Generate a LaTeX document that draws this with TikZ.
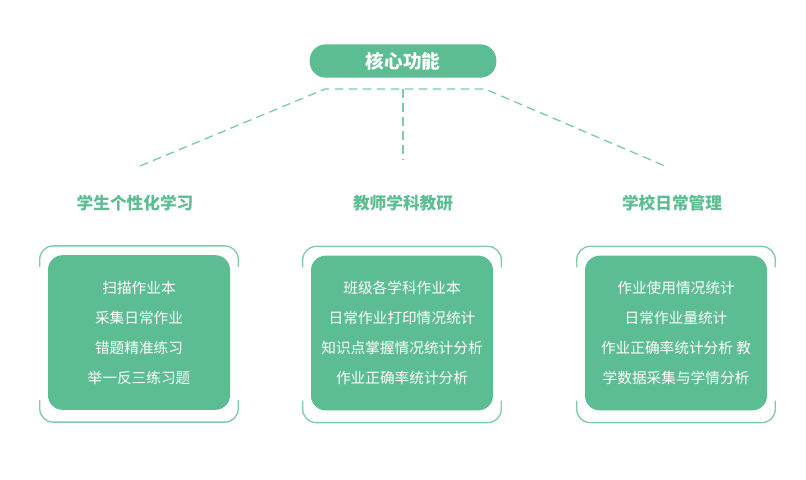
\documentclass[tikz,border=0pt]{standalone}
\usepackage{fontspec}
\setmainfont{Noto Sans CJK SC}
\usetikzlibrary{calc}
\definecolor{mygreen}{HTML}{5DBD92}
\definecolor{mylight}{HTML}{7ECBA6}

\begin{document}
\begin{tikzpicture}[x=0.75pt,y=-0.75pt,
  pill/.style={fill=mygreen,rounded corners=12pt,minimum width=140pt,minimum height=25pt,
    text=white,font=\fontsize{14pt}{16pt}\selectfont\bfseries},
  head/.style={text=mygreen,font=\fontsize{12.5pt}{14pt}\selectfont\bfseries},
  gbox/.style={fill=mygreen,rounded corners=11pt,minimum width=136.5pt,minimum height=116pt,
    text=white,align=center,font=\fontsize{11pt}{22.5pt}\selectfont},
  link/.style={mylight,line width=1pt,dash pattern=on 6.5pt off 4pt},
  bracket/.style={mylight,line width=1pt,rounded corners=10pt}]
  \useasboundingbox (0,0) rectangle (806,479);

  % Top node
  \node[pill] (core) at (403,61) {核心功能};

  % Dashed connectors
  \coordinate (jl) at (325,89);
  \coordinate (jr) at (485,89);
  \coordinate (jm) at (403,89);
  \coordinate (el) at (140,166);
  \coordinate (em) at (403,160);
  \coordinate (er) at (665,166);
  \draw[link] (el) -- (jl) -- (jr) -- (er);
  \draw[link] (jm) -- (em);

  % Headings
  \node[head] (h1) at (135,203) {学生个性化学习};
  \node[head] (h2) at (403,203) {教师学科教研};
  \node[head] (h3) at (672,203) {学校日常管理};

  % Boxes
  \node[gbox] (b1) at (139,332.5) {扫描作业本\\采集日常作业\\错题精准练习\\举一反三练习题};
  \node[gbox] (b2) at (402,333) {班级各学科作业本\\日常作业打印情况统计\\知识点掌握情况统计分析\\作业正确率统计分析};
  \node[gbox] (b3) at (676,333) {作业使用情况统计\\日常作业量统计\\作业正确率统计分析 教\\学数据采集与学情分析};

  % Brackets round the boxes
  \draw[bracket] ($(b1.north west)+(-8,12)$) |- ($(b1.north east)+(8,-9)$) -- ($(b1.north east)+(8,12)$);
  \draw[bracket] ($(b1.south west)+(-8,-10)$) |- ($(b1.south east)+(8,12)$) -- ($(b1.south east)+(8,-10)$);
  \draw[bracket] ($(b2.north west)+(-8,12)$) |- ($(b2.north east)+(8,-9)$) -- ($(b2.north east)+(8,12)$);
  \draw[bracket] ($(b2.south west)+(-8,-10)$) |- ($(b2.south east)+(8,12)$) -- ($(b2.south east)+(8,-10)$);
  \draw[bracket] ($(b3.north west)+(-8,12)$) |- ($(b3.north east)+(8,-9)$) -- ($(b3.north east)+(8,12)$);
  \draw[bracket] ($(b3.south west)+(-8,-10)$) |- ($(b3.south east)+(8,12)$) -- ($(b3.south east)+(8,-10)$);
\end{tikzpicture}
\end{document}
